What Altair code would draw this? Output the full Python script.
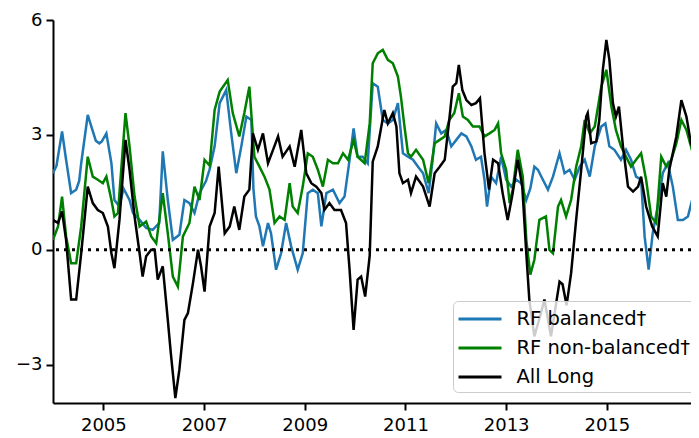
import altair as alt
import pandas as pd

# ---- data ----
series_names = ["RF balanced\u2020", "RF non-balanced\u2020", "All Long"]
series_colors = ["#1f77b4", "#008000", "#000000"]

blue_years = [2004.00, 2004.07, 2004.18, 2004.26, 2004.36, 2004.46, 2004.52, 2004.56, 2004.69, 2004.79,
              2004.85, 2004.92, 2004.97, 2005.06, 2005.16, 2005.22, 2005.32, 2005.40, 2005.52, 2005.59,
              2005.72, 2005.85, 2005.98, 2006.11, 2006.18, 2006.28, 2006.38, 2006.51, 2006.61, 2006.71,
              2006.81, 2006.91, 2007.04, 2007.11, 2007.21, 2007.31, 2007.44, 2007.54, 2007.64, 2007.74,
              2007.84, 2007.94, 2007.98, 2008.03, 2008.10, 2008.17, 2008.27, 2008.33, 2008.43, 2008.53,
              2008.63, 2008.73, 2008.86, 2008.96, 2009.06, 2009.16, 2009.26, 2009.33, 2009.43, 2009.56,
              2009.69, 2009.79, 2009.89, 2009.97, 2010.05, 2010.15, 2010.25, 2010.35, 2010.45, 2010.55,
              2010.65, 2010.75, 2010.85, 2010.95, 2011.05, 2011.15, 2011.25, 2011.35, 2011.46, 2011.54,
              2011.61, 2011.71, 2011.81, 2011.91, 2012.01, 2012.11, 2012.21, 2012.31, 2012.40, 2012.50,
              2012.57, 2012.62, 2012.70, 2012.80, 2012.90, 2013.00, 2013.10, 2013.20, 2013.30, 2013.40,
              2013.48, 2013.56, 2013.63, 2013.73, 2013.83, 2013.93, 2014.06, 2014.16, 2014.26, 2014.36,
              2014.46, 2014.56, 2014.66, 2014.76, 2014.89, 2014.97, 2015.05, 2015.15, 2015.28, 2015.38,
              2015.48, 2015.58, 2015.68, 2015.75, 2015.83, 2015.91, 2016.01, 2016.11, 2016.21, 2016.31,
              2016.41, 2016.51, 2016.61, 2016.71, 2016.81, 2016.86]
blue_values = [2.00, 2.20, 3.09, 2.35, 1.48, 1.57, 1.80, 2.26, 3.52, 3.10,
               2.85, 2.78, 2.83, 3.04, 2.26, 1.30, 1.13, 1.60, 1.30, 0.96,
               0.78, 0.57, 0.52, 0.70, 2.57, 1.30, 0.26, 0.39, 1.30, 1.22,
               0.96, 1.48, 1.80, 2.10, 2.70, 3.83, 4.17, 3.04, 2.00, 2.70,
               3.48, 3.39, 1.60, 0.87, 0.61, 0.09, 0.70, 0.43, -0.52, -0.09,
               0.70, 0.09, -0.52, -0.09, 1.48, 1.57, 1.48, 0.61, 1.48, 1.57,
               1.22, 1.39, 2.35, 3.17, 2.43, 2.43, 2.26, 4.35, 4.26, 3.39,
               3.30, 3.39, 3.83, 2.52, 2.43, 2.35, 2.17, 2.00, 1.48, 2.35,
               3.30, 3.04, 3.13, 2.70, 2.87, 3.04, 2.96, 2.70, 2.35, 2.43,
               1.83, 1.13, 1.91, 1.74, 2.43, 1.83, 1.65, 1.83, 1.74, 1.30,
               1.60, 2.17, 2.09, 1.83, 1.57, 1.91, 2.52, 2.00, 2.09, 1.83,
               2.17, 2.35, 1.91, 2.70, 3.22, 3.30, 2.70, 2.61, 2.35, 2.61,
               2.35, 1.91, 1.83, 0.35, -0.52, 0.43, 1.13, 2.00, 2.26, 1.65,
               0.78, 0.78, 0.87, 1.39, 2.17, 2.40]

green_years = [2004.00, 2004.10, 2004.18, 2004.26, 2004.36, 2004.46, 2004.56, 2004.69, 2004.79, 2004.89,
               2004.99, 2005.06, 2005.16, 2005.22, 2005.29, 2005.44, 2005.52, 2005.62, 2005.72, 2005.85,
               2005.95, 2006.05, 2006.18, 2006.28, 2006.38, 2006.48, 2006.58, 2006.71, 2006.81, 2006.91,
               2007.01, 2007.11, 2007.21, 2007.31, 2007.47, 2007.57, 2007.70, 2007.80, 2007.90, 2008.00,
               2008.10, 2008.20, 2008.30, 2008.40, 2008.50, 2008.60, 2008.70, 2008.76, 2008.86, 2008.96,
               2009.06, 2009.16, 2009.26, 2009.36, 2009.46, 2009.56, 2009.66, 2009.76, 2009.86, 2009.97,
               2010.05, 2010.19, 2010.29, 2010.35, 2010.45, 2010.55, 2010.65, 2010.75, 2010.85, 2010.91,
               2010.98, 2011.05, 2011.11, 2011.21, 2011.35, 2011.46, 2011.58, 2011.68, 2011.78, 2011.87,
               2011.97, 2012.06, 2012.14, 2012.24, 2012.34, 2012.47, 2012.57, 2012.67, 2012.77, 2012.84,
               2012.90, 2013.00, 2013.07, 2013.13, 2013.23, 2013.33, 2013.40, 2013.48, 2013.56, 2013.66,
               2013.79, 2013.86, 2013.93, 2014.03, 2014.09, 2014.19, 2014.29, 2014.39, 2014.49, 2014.56,
               2014.66, 2014.76, 2014.89, 2014.99, 2015.09, 2015.18, 2015.28, 2015.38, 2015.48, 2015.58,
               2015.68, 2015.78, 2015.88, 2015.98, 2016.08, 2016.18, 2016.28, 2016.38, 2016.48, 2016.58,
               2016.67, 2016.77, 2016.82, 2016.86]
green_values = [0.26, 0.61, 1.39, 0.35, -0.35, -0.35, 0.61, 2.43, 1.91, 1.83,
                1.74, 1.91, 1.30, 0.87, 0.96, 3.57, 2.70, 1.39, 0.61, 0.74,
                0.35, 0.17, 1.48, 0.43, -0.70, -0.96, 0.35, 0.70, 1.65, 1.30,
                2.35, 2.20, 3.65, 4.13, 4.43, 3.57, 2.96, 3.57, 4.26, 2.43,
                2.17, 1.91, 1.57, 0.70, 0.87, 0.78, 1.74, 1.13, 0.96, 1.65,
                2.52, 2.43, 2.09, 1.65, 2.35, 2.26, 2.26, 2.52, 2.35, 2.87,
                2.43, 2.26, 3.30, 4.87, 5.13, 5.22, 4.96, 4.87, 4.52, 4.00,
                3.22, 2.52, 2.43, 2.61, 2.35, 1.74, 2.78, 2.87, 2.96, 3.39,
                3.57, 4.09, 3.48, 3.39, 3.22, 3.22, 2.96, 3.04, 3.13, 3.30,
                2.52, 2.09, 1.22, 1.57, 2.61, 1.91, 0.26, -0.65, -0.26, 0.78,
                0.87, 0.00, -0.09, 1.13, 1.30, 0.87, 1.30, 2.17, 2.70, 3.39,
                3.04, 3.22, 4.26, 4.70, 3.74, 3.13, 2.70, 2.43, 2.17, 2.35,
                2.52, 1.83, 0.87, 0.70, 2.43, 2.17, 2.35, 2.78, 3.39, 3.13,
                2.70, 3.22, 4.35, 5.00]

black_years = [2004.00, 2004.10, 2004.18, 2004.26, 2004.36, 2004.46, 2004.56, 2004.69, 2004.79, 2004.89,
               2004.99, 2005.09, 2005.16, 2005.22, 2005.32, 2005.44, 2005.52, 2005.62, 2005.72, 2005.78,
               2005.85, 2005.95, 2006.02, 2006.08, 2006.18, 2006.28, 2006.34, 2006.43, 2006.51, 2006.61,
               2006.68, 2006.78, 2006.88, 2006.94, 2007.01, 2007.11, 2007.21, 2007.29, 2007.41, 2007.51,
               2007.60, 2007.70, 2007.80, 2007.90, 2007.97, 2008.07, 2008.17, 2008.27, 2008.37, 2008.47,
               2008.56, 2008.70, 2008.80, 2008.93, 2009.03, 2009.13, 2009.23, 2009.33, 2009.39, 2009.49,
               2009.59, 2009.72, 2009.82, 2009.89, 2009.97, 2010.05, 2010.12, 2010.20, 2010.29, 2010.35,
               2010.45, 2010.58, 2010.65, 2010.75, 2010.82, 2010.88, 2010.95, 2011.05, 2011.11, 2011.21,
               2011.35, 2011.48, 2011.58, 2011.68, 2011.78, 2011.87, 2011.94, 2012.01, 2012.06, 2012.13,
               2012.21, 2012.31, 2012.40, 2012.48, 2012.57, 2012.66, 2012.74, 2012.84, 2012.93, 2013.03,
               2013.13, 2013.23, 2013.32, 2013.40, 2013.46, 2013.56, 2013.66, 2013.76, 2013.89, 2014.06,
               2014.12, 2014.20, 2014.29, 2014.39, 2014.49, 2014.59, 2014.62, 2014.69, 2014.79, 2014.85,
               2014.92, 2014.99, 2015.05, 2015.12, 2015.18, 2015.24, 2015.32, 2015.42, 2015.52, 2015.62,
               2015.68, 2015.78, 2015.90, 2016.01, 2016.11, 2016.18, 2016.24, 2016.38, 2016.48, 2016.58,
               2016.67, 2016.77, 2016.86]
black_values = [0.78, 0.70, 1.00, 0.26, -1.30, -1.30, -0.09, 1.65, 1.22, 1.04,
                0.96, 0.61, -0.09, -0.48, 0.78, 2.87, 2.09, 0.87, -0.09, -0.70,
                -0.17, 0.00, 0.00, -0.78, -0.43, -1.83, -2.70, -3.87, -3.13, -1.83,
                -1.65, -0.87, 0.00, -0.43, -1.09, 0.61, 0.96, 2.17, 0.43, 0.61,
                1.13, 0.52, 1.39, 1.57, 3.04, 2.61, 3.04, 2.26, 2.61, 2.96,
                2.43, 2.70, 2.17, 3.13, 2.00, 1.74, 1.65, 1.48, 1.04, 1.22,
                1.04, 1.04, 0.70, -0.52, -2.09, -0.78, -0.70, -1.22, -0.15, 2.30,
                2.70, 3.65, 3.30, 3.57, 3.22, 2.00, 1.74, 1.83, 1.48, 1.91,
                1.65, 1.13, 2.00, 2.17, 2.35, 3.39, 4.26, 4.35, 4.83, 4.17,
                3.91, 3.78, 3.83, 3.96, 2.52, 1.57, 2.35, 2.26, 1.48, 0.78,
                1.48, 2.35, 1.65, -0.09, -1.30, -2.26, -1.80, -1.30, -2.26, -0.83,
                -0.90, -1.45, -0.61, 0.78, 2.09, 3.48, 3.57, 2.78, 2.83, 3.39,
                4.70, 5.48, 4.96, 3.83, 3.48, 3.74, 2.70, 1.65, 1.52, 1.65,
                1.91, 1.13, 0.61, 0.35, 1.74, 1.39, 2.09, 2.96, 3.91, 3.48,
                2.78, 2.52, 2.30]

x_ticks = [2005, 2007, 2009, 2011, 2013, 2015]
y_ticks = [-3, 0, 3, 6]
zero_line = [0]

FONT = "DejaVu Sans"

x_scale = alt.Scale(domain=[2004.0, 2016.83], nice=False, zero=False)
y_scale = alt.Scale(domain=[-4, 6], nice=False, zero=False)

x_axis = alt.Axis(values=x_ticks, format="d", title=None, grid=False,
                  labelFont=FONT, labelFontSize=18, labelColor="black",
                  domainColor="black", domainWidth=2, tickColor="black",
                  tickWidth=2, tickSize=7, labelPadding=6, labelFlush=False)
y_axis = alt.Axis(values=y_ticks, format="d", title=None, grid=False,
                  labelFont=FONT, labelFontSize=18, labelColor="black",
                  domainColor="black", domainWidth=2, tickColor="black",
                  tickWidth=2, tickSize=7, labelPadding=4)

color_scale = alt.Scale(domain=series_names, range=series_colors)
legend = alt.Legend(orient="none", legendX=400, legendY=281, title=None,
                    symbolType="M-2,0H2", symbolSize=462, symbolStrokeWidth=3,
                    symbolOffset=9, labelOffset=24,
                    labelFont=FONT, labelFontSize=19.5, labelColor="black", labelLimit=400,
                    fillColor="rgba(255,255,255,0.8)", strokeColor="#cccccc",
                    cornerRadius=5, padding=5.5, rowPadding=7)


def line_layer(xs, ys, name):
    df = pd.DataFrame({"year": xs, "value": ys, "series": [name] * len(xs)})
    return alt.Chart(df).mark_line(strokeWidth=2.5, clip=True).encode(
        x=alt.X("year:Q", scale=x_scale, axis=x_axis),
        y=alt.Y("value:Q", scale=y_scale, axis=y_axis),
        color=alt.Color("series:N", scale=color_scale, legend=legend),
    )


blue = line_layer(blue_years, blue_values, series_names[0])
green = line_layer(green_years, green_values, series_names[1])
black = line_layer(black_years, black_values, series_names[2])

zero = alt.Chart(pd.DataFrame({"z": zero_line})).mark_rule(
    color="black", strokeWidth=3, strokeDash=[3, 5]
).encode(y=alt.Y("z:Q", scale=y_scale))

# plot area runs 8px past the svg's right edge, as the reference is cropped there
chart = alt.layer(blue, green, black, zero).properties(
    width=646, height=383,
    autosize=alt.AutoSizeParams(type="none"),
    padding={"left": 45, "top": 12, "right": -8, "bottom": 31},
    background="white",
).configure_view(stroke=None)

chart.save("out.html", embed_options={"renderer": "svg", "actions": False})
